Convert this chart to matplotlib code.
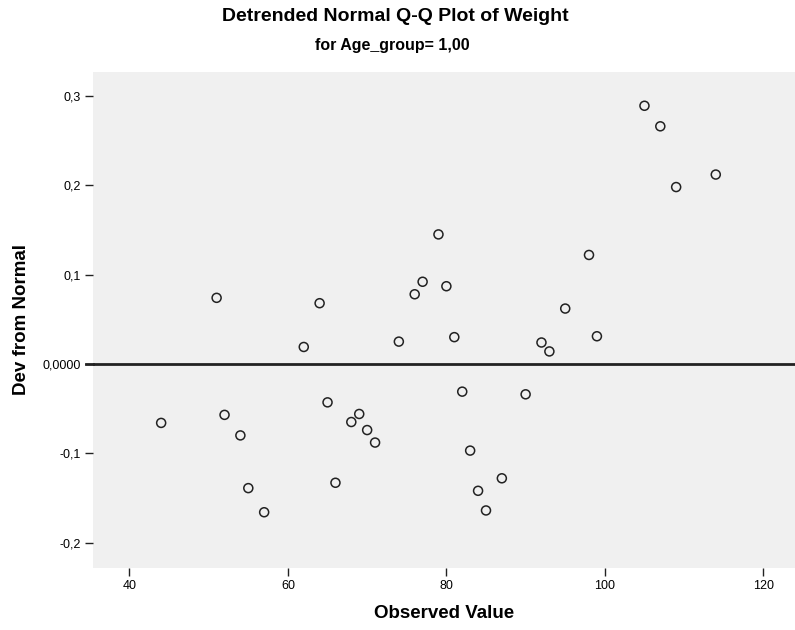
# -*- coding: utf-8 -*-
import matplotlib
matplotlib.use('Agg')
import matplotlib.pyplot as plt
from matplotlib.ticker import FixedLocator, FixedFormatter

plt.rcParams['font.family'] = ['Liberation Sans', 'DejaVu Sans']

# observed weight values
observed = [44, 51, 52, 54, 55, 57, 62, 64, 65, 66, 68, 69, 70, 71, 74, 76, 77,
            79, 80, 81, 82, 83, 84, 85, 87, 90, 92, 93, 95, 98, 99, 105, 107, 109, 114]
# deviation from normal
dev = [-0.066, 0.074, -0.057, -0.080, -0.139, -0.166, 0.019, 0.068, -0.043, -0.133,
       -0.065, -0.056, -0.074, -0.088, 0.025, 0.078, 0.092, 0.145, 0.087, 0.030,
       -0.031, -0.097, -0.142, -0.164, -0.128, -0.034, 0.024, 0.014, 0.062, 0.122,
       0.031, 0.289, 0.266, 0.198, 0.212]

y_ticks = [0.3, 0.2, 0.1, 0.0, -0.1, -0.2]
y_labels = ['0,3', '0,2', '0,1', '0,0000', '-0,1', '-0,2']
x_ticks = [40, 60, 80, 100, 120]

fig = plt.figure(figsize=(7.95, 6.3), dpi=100)
ax = fig.add_axes([0.117, 0.099, 0.883, 0.787])
ax.set_facecolor('#f0f0f0')

# reference line at zero
ax.axhline(0, color='#222222', linewidth=2, zorder=2)
ax.plot([-0.01, 0], [0, 0], transform=ax.get_yaxis_transform(), color='#222222',
        linewidth=2, clip_on=False)

ax.scatter(observed, dev, s=42, facecolors='none', edgecolors='#222222',
           linewidths=1.1, zorder=3)

ax.set_xlim(35.4, 124.0)
ax.set_ylim(-0.228, 0.327)

ax.yaxis.set_major_locator(FixedLocator(y_ticks))
ax.yaxis.set_major_formatter(FixedFormatter(y_labels))
ax.set_xticks(x_ticks)

for s in ax.spines.values():
    s.set_visible(False)
ax.tick_params(axis='both', labelsize=9, length=6, width=1, color='#222222', pad=3)

ax.set_xlabel('Observed Value', fontsize=13.5, fontweight='bold', labelpad=9)
ax.set_ylabel('Dev from Normal', fontsize=13.5, fontweight='bold', labelpad=9)

fig.text(0.497, 0.987, 'Detrended Normal Q-Q Plot of Weight', ha='center', va='top',
         fontsize=14, fontweight='bold')
fig.text(0.493, 0.939, 'for Age_group= 1,00', ha='center', va='top',
         fontsize=11.5, fontweight='bold')

fig.savefig('out.png', dpi=100)
